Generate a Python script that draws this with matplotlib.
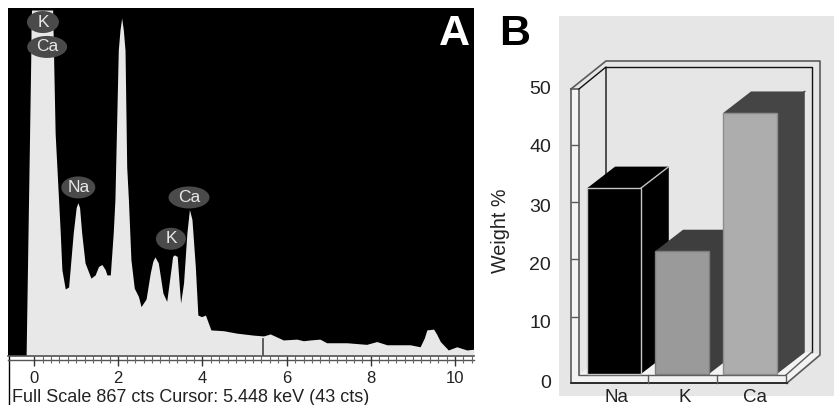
import matplotlib
matplotlib.use("Agg")
import matplotlib.pyplot as plt
from matplotlib.patches import Ellipse, Polygon

plt.rcParams["font.family"] = ["Liberation Sans", "DejaVu Sans"]

# spectrum
kev = [-0.19, -0.08, -0.07, -0.06, 0.44, 0.50, 0.62, 0.66, 0.74, 0.82, 0.93, 1.00, 1.04, 1.08, 1.13,
       1.21, 1.35, 1.45, 1.53, 1.61, 1.69, 1.73, 1.81, 1.88, 1.92, 2.00, 2.04, 2.08, 2.12, 2.16,
       2.20, 2.24, 2.30, 2.38, 2.48, 2.54, 2.66, 2.76, 2.82, 2.87, 2.95, 3.06, 3.15, 3.25,
       3.29, 3.33, 3.40, 3.45, 3.48, 3.55, 3.63, 3.69, 3.75, 3.83, 3.89, 3.98, 4.07, 4.20,
       4.50, 4.81, 4.97, 5.21, 5.45, 5.61, 5.92, 6.24, 6.40, 6.56, 6.79, 6.95, 7.43, 7.90,
       8.14, 8.38, 8.93, 9.17, 9.27, 9.33, 9.49, 9.56, 9.65, 9.84, 10.04, 10.28, 10.45]
cts = [0, 737, 840, 862, 862, 554, 310, 215, 167, 172, 307, 370, 382, 370, 307,
       232, 194, 202, 223, 228, 215, 202, 202, 307, 390, 762, 812, 842, 812, 762,
       471, 390, 240, 169, 148, 123, 142, 207, 236, 247, 232, 157, 136, 215,
       248, 252, 248, 173, 132, 182, 307, 365, 340, 223, 102, 98, 102, 65,
       63, 57, 55, 52, 50, 55, 40, 42, 38, 40, 42, 33, 33, 29,
       36, 28, 28, 23, 45, 65, 67, 55, 36, 15, 23, 15, 17]

cursor_kev = 5.448
cursor_cts = 43
peak_names = ["K", "Ca", "Na", "Ca", "K"]
peak_kev = [0.21, 0.31, 1.05, 3.68, 3.25]
peak_cts = [832, 770, 420, 395, 292]
peak_w_px = [32, 40, 34, 41, 30]

# weight percent bars
elements = ["Na", "K", "Ca"]
weight = [32.4, 21.4, 45.5]
front_cols = ["#000000", "#9a9a9a", "#adadad"]
top_cols = ["#000000", "#3e3e3e", "#454545"]
edge_cols = ["#c4c4c4", "#7c7c7c", "#8c8c8c"]
weight_ticks = [10, 20, 30, 40]
label_vals = ["0", "10", "20", "30", "40", "50"]
label_y_px = [383, 323, 265, 207, 148, 90]

W, H = 834, 405


def px_axes(fig, x0, y0, x1, y1, **kw):
    return fig.add_axes([x0 / W, 1 - y1 / H, (x1 - x0) / W, (y1 - y0) / H], **kw)


fig = plt.figure(figsize=(W / 100, H / 100), dpi=100, facecolor="white")

# overlay in pixel coords for the panel furniture
bg = fig.add_axes([0, 0, 1, 1], zorder=0)
bg.set_xlim(0, W)
bg.set_ylim(H, 0)
bg.axis("off")
bg.add_patch(plt.Rectangle((559, 16), 275, 380, fc="#e6e6e6", ec="none"))
bg.plot([9, 9], [356, 405], color="black", lw=1)
bg.plot([8, 474], [359.5, 359.5], color="#555555", lw=1)

# 3d box of panel B
dark = "#5a5a5a"
bg.add_patch(Polygon([(571, 89), (579, 89), (579, 375), (786, 375), (786, 383), (571, 383)],
                     fc="#f3f3f3", ec="none"))
bg.add_patch(Polygon([(786, 375), (812, 352), (820, 355), (787, 383)], fc="#f3f3f3", ec="none"))
bg.add_patch(Polygon([(579, 375), (606, 352), (812, 352), (786, 375)], fc="#f3f3f3", ec="none"))
bg.plot([571, 606, 820, 820, 787, 571, 571], [89, 61, 61, 355, 383, 383, 89], color=dark, lw=1.2)
bg.plot([571, 579, 579], [89, 89, 375], color=dark, lw=1.2)
bg.plot([579, 606, 606], [89, 67, 240], color="#111111", lw=1)
bg.plot([606, 812, 812], [67, 67, 352], color="#111111", lw=1)
bg.plot([579, 786, 786, 787], [375, 375, 383, 383], color=dark, lw=1)
bg.plot([786, 812], [375, 352], color=dark, lw=1)
bg.plot([571, 787], [383, 383], color="#222222", lw=1.2)
bg.plot([648, 648], [375, 383], color=dark, lw=1)
bg.plot([717, 717], [375, 383], color=dark, lw=1)

# panel A
ax_a = px_axes(fig, 8, 8, 474, 356, zorder=1)
ax_a.set_facecolor("black")
ax_a.fill_between(kev, cts, 0, color="#e8e8e8", lw=0)
ax_a.plot([cursor_kev, cursor_kev], [0, cursor_cts], color="#444444", lw=1.2)
ax_a.set_xlim(-0.62, 10.45)
ax_a.set_ylim(0, 867)
ax_a.set_yticks([])
ax_a.set_xticks([0, 2, 4, 6, 8, 10])
ax_a.set_xticks([i * 0.2 for i in range(0, 53)], minor=True)
ax_a.tick_params(axis="x", which="major", length=7, width=1, color="#333333",
                 labelsize=12, labelcolor="#222222", pad=4)
ax_a.tick_params(axis="x", which="minor", length=5, width=0.8, color="#666666")
for side in ["top", "left", "right"]:
    ax_a.spines[side].set_visible(False)
ax_a.spines["bottom"].set_color("#555555")
ax_a.spines["bottom"].set_linewidth(1.2)

for name, x, y, w_px in zip(peak_names, peak_kev, peak_cts, peak_w_px):
    ax_a.add_patch(Ellipse((x, y), w_px * 11.07 / 466, 22 * 867 / 348, fc="#4a4a4a", ec="none", zorder=4))
    ax_a.text(x, y, name, ha="center", va="center", fontsize=12.5, color="#e8e8e8", zorder=5)

ax_a.text(454, 34, "A", transform=bg.transData, ha="center", va="center", fontsize=31,
          fontweight="bold", color="white", zorder=6)
bg.text(12, 397, "Full Scale 867 cts Cursor: 5.448 keV (43 cts)", ha="left", va="center",
        fontsize=13, color="#222222")

# panel B
ax_b = px_axes(fig, 559, 16, 834, 396, zorder=2)
ax_b.patch.set_alpha(0)
ax_b.set_xlim(-0.81, 3.235)
ax_b.set_ylim(-3.83, 62.4)
for spine in ax_b.spines.values():
    spine.set_visible(False)

bar_w = 0.79
depth_x, depth_y = 0.41, 3.75
for i, (val, fc, tc, ec) in enumerate(zip(weight, front_cols, top_cols, edge_cols)):
    l, r = i - bar_w / 2, i + bar_w / 2
    ax_b.add_patch(Polygon([(r, 0), (r + depth_x, depth_y), (r + depth_x, val + depth_y), (r, val)],
                           fc=tc, ec="none", zorder=3 + i))
    ax_b.add_patch(Polygon([(l, val), (l + depth_x, val + depth_y), (r + depth_x, val + depth_y), (r, val)],
                           fc=tc, ec="none", zorder=3 + i))
    ax_b.plot([r, r + depth_x], [val, val + depth_y], color=ec if i == 0 else tc, lw=1, zorder=3 + i)
    ax_b.bar(i, val, width=bar_w, color=fc, edgecolor=ec, linewidth=1, zorder=3.5 + i)

ax_b.hlines(weight_ticks, -0.632, -0.515, color=dark, lw=1)
ax_b.set_xticks([0.04, 1.04, 2.07])
ax_b.set_xticklabels(elements)
ax_b.set_yticks([])
ax_b.tick_params(axis="x", length=0, labelsize=13.5, labelcolor="#222222", pad=-5)
for lab, y in zip(label_vals, label_y_px):
    bg.text(551, y, lab, ha="right", va="center", fontsize=14, color="#222222")
bg.text(501, 231, "Weight %", rotation=90, ha="center", va="center", fontsize=14.2, color="#222222")
bg.text(515, 34, "B", ha="center", va="center", fontsize=31, fontweight="bold", color="black")

fig.savefig("out.png", dpi=100)
